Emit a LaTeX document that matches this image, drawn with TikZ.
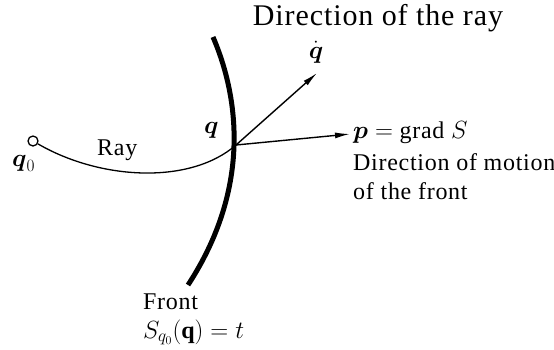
\documentclass[tikz,border=0pt]{standalone}
\usepackage{amsmath,amssymb}
\usepackage{fontspec}
\setmainfont{Liberation Serif}[LetterSpace=3]
\usetikzlibrary{arrows.meta,positioning}

\begin{document}
\begin{tikzpicture}[
    x=1pt, y=-1pt,
    txt/.style={inner sep=0pt, anchor=base west, align=left, font=\fontsize{24}{29}\selectfont},
    bigtxt/.style={inner sep=0pt, anchor=base, font=\fontsize{30}{34}\selectfont},
    vec/.style={-{Latex[length=15pt,width=6pt]}, line width=1.4pt}
]
\useasboundingbox (0,0) rectangle (554,349);

% the front and the point on it
\coordinate (q) at (236,145);
\coordinate (ftop) at (213,37);
\coordinate (fbot) at (188,285);
\draw[line width=5pt] (ftop) .. controls (240,100) and (250,190) .. (fbot);

% the ray
\node[circle, draw, line width=1.3pt, minimum size=10pt, inner sep=0pt, fill=white] (q0) at (33,141) {};
\draw[line width=1.3pt] (q0) .. controls (100,180) and (190,185) .. (q);

% vectors
\coordinate (qdtip) at (317,73);
\coordinate (ptip) at (350,134);
\draw[vec] (q) -- (qdtip);
\draw[vec] (q) -- (ptip);

% labels (multi-line ones sit on the base of their last line)
\node[txt, font=\fontsize{26}{29}\selectfont] (q0lbl) at (12,166) {$\boldsymbol{q}_0$};
\node[txt] (raylbl) at (97,155) {Ray};
\node[txt, font=\fontsize{26}{29}\selectfont] (qlbl) at (204,133) {$\boldsymbol{q}$};
\node[txt, anchor=base, font=\fontsize{26}{29}\selectfont] (qdlbl) at (316,58) {$\dot{\boldsymbol{q}}$};
\node[bigtxt] (dirray) at (378,25) {Direction of the ray};
\node[txt] (plbl) at (353,138) {$\boldsymbol{p} =$ grad $S$};
\node[txt] (dirfront) at (353,199) {Direction of motion\\of the front};
\node[txt] (frontlbl) at (143,338) {Front\\$S_{q_0}(\mathbf{q}) = t$};
\end{tikzpicture}
\end{document}
